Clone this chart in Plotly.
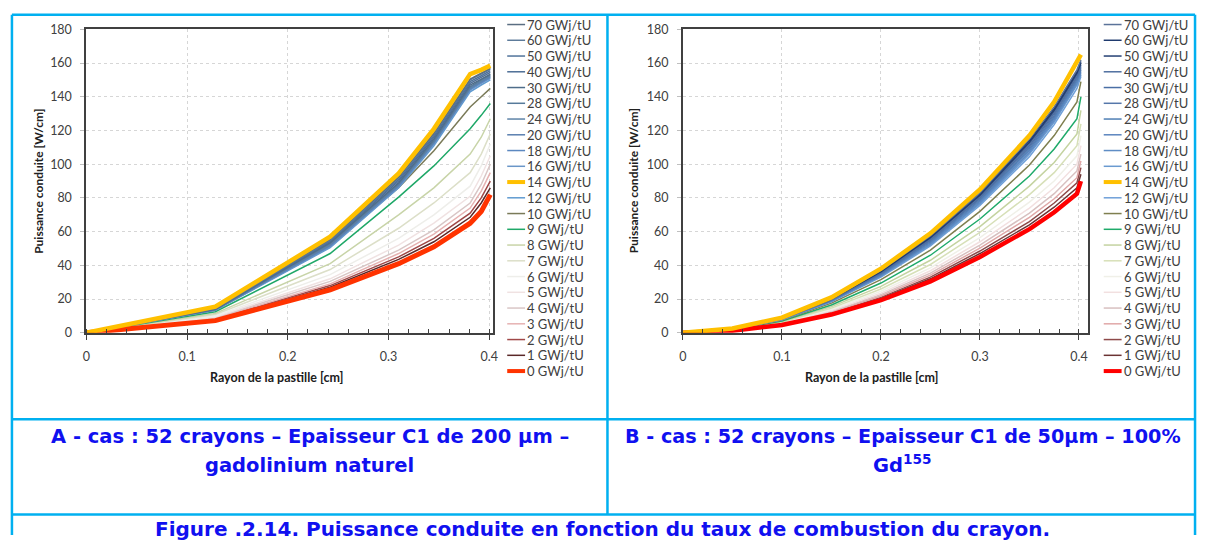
import plotly.graph_objects as go

W, H = 1205, 542

# Burn-up steps (legend order, top to bottom)
labels = ["70 GWj/tU", "60 GWj/tU", "50 GWj/tU", "40 GWj/tU", "30 GWj/tU", "28 GWj/tU",
          "24 GWj/tU", "20 GWj/tU", "18 GWj/tU", "16 GWj/tU", "14 GWj/tU", "12 GWj/tU",
          "10 GWj/tU", "9 GWj/tU", "8 GWj/tU", "7 GWj/tU", "6 GWj/tU", "5 GWj/tU",
          "4 GWj/tU", "3 GWj/tU", "2 GWj/tU", "1 GWj/tU", "0 GWj/tU"]

# ---- Case A : 200 µm C1, natural gadolinium ----
radius_a = [0, 0.128, 0.242, 0.31, 0.345, 0.381, 0.392, 0.401]
power_a = {
    "70 GWj/tU": [0, 14.8, 55.5, 92.5, 118.5, 150.5, 154, 157],
    "60 GWj/tU": [0, 14.6, 55, 92, 118, 150, 153.5, 156.5],
    "50 GWj/tU": [0, 14.4, 54.5, 91, 117, 149, 152.5, 155.5],
    "40 GWj/tU": [0, 14.2, 54, 90, 116, 148, 151.5, 154.5],
    "30 GWj/tU": [0, 14, 53.5, 89, 115, 147, 150.5, 153.5],
    "28 GWj/tU": [0, 13.9, 53, 88.5, 114, 146, 150, 153],
    "24 GWj/tU": [0, 13.8, 52.5, 88, 113.5, 145.5, 149.5, 152.5],
    "20 GWj/tU": [0, 13.7, 52, 87.5, 113, 145, 149, 152],
    "18 GWj/tU": [0, 13.6, 51.5, 87, 112.5, 144.5, 148.5, 151.5],
    "16 GWj/tU": [0, 13.5, 51, 86.5, 112, 144, 148, 151],
    "14 GWj/tU": [0, 15.5, 57, 94.5, 121, 153.5, 156, 158.5],
    "12 GWj/tU": [0, 13.3, 50.5, 86, 111, 143, 147, 150],
    "10 GWj/tU": [0, 13.5, 52, 86, 108, 134, 140, 145],
    "9 GWj/tU": [0, 12.5, 47, 80.5, 99, 121, 129, 136],
    "8 GWj/tU": [0, 11.5, 41, 70, 86, 106, 116, 127],
    "7 GWj/tU": [0, 10.8, 37.5, 62, 77, 95, 106, 118],
    "6 GWj/tU": [0, 10, 34.5, 56, 70, 87, 99, 112],
    "5 GWj/tU": [0, 9.4, 32, 52, 65, 81, 93, 105],
    "4 GWj/tU": [0, 9, 30.5, 49, 61, 77, 88, 100],
    "3 GWj/tU": [0, 8.6, 29, 47, 58.5, 74, 84, 95],
    "2 GWj/tU": [0, 8.2, 28, 45, 56, 71, 80, 90],
    "1 GWj/tU": [0, 7.8, 27, 43.5, 54, 68.5, 77, 86],
    "0 GWj/tU": [0, 7.2, 25.5, 41, 51, 65, 72, 82],
}

# ---- Case B : 50 µm C1, 100 % Gd155 ----
radius_b = [0, 0.05, 0.1, 0.15, 0.2, 0.25, 0.3, 0.35, 0.375, 0.398, 0.402]
power_b = {
    "70 GWj/tU": [0, 2.4, 8.7, 20.5, 37, 57.5, 83, 115, 134, 156, 162],
    "60 GWj/tU": [0, 2.4, 8.6, 20.3, 36.6, 57, 82.3, 114, 133, 155, 161],
    "50 GWj/tU": [0, 2.3, 8.5, 20, 36.2, 56.4, 81.6, 113, 132, 154, 160],
    "40 GWj/tU": [0, 2.3, 8.4, 19.8, 35.8, 55.8, 81, 112, 131, 153, 159],
    "30 GWj/tU": [0, 2.3, 8.3, 19.6, 35.4, 55.2, 80.2, 111, 130, 152, 158],
    "28 GWj/tU": [0, 2.2, 8.2, 19.4, 35, 54.6, 79.5, 110, 129, 151, 157],
    "24 GWj/tU": [0, 2.2, 8.1, 19.2, 34.6, 54, 78.8, 109, 128, 150, 156],
    "20 GWj/tU": [0, 2.2, 8, 19, 34.2, 53.4, 78, 108, 127, 149, 155],
    "18 GWj/tU": [0, 2.1, 7.9, 18.8, 33.8, 52.8, 77.2, 107, 126, 148, 154],
    "16 GWj/tU": [0, 2.1, 7.8, 18.6, 33.4, 52.2, 76.5, 106, 125, 147, 153],
    "14 GWj/tU": [0, 2.5, 9, 21, 38, 59, 85, 117, 137, 160, 165],
    "12 GWj/tU": [0, 2.1, 7.7, 18.3, 33, 51.5, 75.5, 104.5, 123.5, 145, 152],
    "10 GWj/tU": [0, 2, 7.4, 17.6, 31.5, 49, 72, 99.5, 117, 137, 149],
    "9 GWj/tU": [0, 1.9, 7, 16.5, 29.5, 46, 67.5, 93, 109, 127, 140],
    "8 GWj/tU": [0, 1.8, 6.6, 15.5, 27.5, 43, 63, 87, 101, 118, 132],
    "7 GWj/tU": [0, 1.7, 6.3, 14.6, 26, 40.5, 59.5, 82, 95, 111, 124],
    "6 GWj/tU": [0, 1.6, 6, 13.9, 24.6, 38.5, 56.5, 77.5, 90, 105, 117],
    "5 GWj/tU": [0, 1.5, 5.7, 13.2, 23.5, 36.8, 54, 74, 86, 100, 111],
    "4 GWj/tU": [0, 1.5, 5.5, 12.7, 22.6, 35.4, 52, 71, 82.5, 96, 106],
    "3 GWj/tU": [0, 1.4, 5.3, 12.3, 21.8, 34.2, 50.2, 68.5, 79.5, 92, 102],
    "2 GWj/tU": [0, 1.4, 5.1, 11.8, 21, 33, 48.5, 66, 77, 89, 98],
    "1 GWj/tU": [0, 1.3, 4.9, 11.4, 20.3, 32, 47, 64, 74.5, 86, 94],
    "0 GWj/tU": [0, 1.2, 4.6, 10.8, 19.3, 30.5, 45, 61.5, 71.5, 82.5, 90],
}

colors_a = ["#5A6E82", "#5D7B9A", "#50739A", "#4D6E96", "#4F6D8A", "#567A9A",
            "#5F84A8", "#5A7FAF", "#5C88C0", "#6A96C8", "#FFC000", "#5F9AD0",
            "#7A7A58", "#1FA868", "#C8D4A8", "#DCDFC8", "#EEEEEA", "#F0E2E2",
            "#D9C6C6", "#E6B2B2", "#A04848", "#5A2828", "#FF3300"]
colors_b = ["#5B7399", "#1F3A6E", "#243F73", "#4F6FA0", "#4A6FA5", "#5577AA",
            "#4F7FB5", "#5B85BF", "#5F8DC5", "#6A9AD0", "#FFC000", "#6FA0D8",
            "#7F7F4F", "#1FAA6A", "#C4D3A0", "#D7E0B8", "#F0F0E8", "#F2E0E0",
            "#D8C0C0", "#E0A8A8", "#8E4A4A", "#6B3333", "#FF0000"]

tick_vals_x = [0, 0.1, 0.2, 0.3, 0.4]
tick_text_x = ["0", "0.1", "0.2", "0.3", "0.4"]
tick_vals_y = [0, 20, 40, 60, 80, 100, 120, 140, 160, 180]

FONT = "Lato, Carlito, Calibri, sans-serif"
CAP_FONT = "DejaVu Sans, sans-serif"
AX_COLOR = "#404040"
FRAME = "#00B0F0"
BLUE_TXT = "#1010F0"


def px_x(x):
    return x / W


def px_y(y):
    return 1 - y / H


def width_of(name, thick):
    if name == "14 GWj/tU":
        return 4.5
    if name == "0 GWj/tU":
        return thick
    return 1.5


fig = go.Figure()

panels = [
    dict(xa="x", ya="y", r=radius_a, data=power_a, colors=colors_a,
         x0=83, x1=493, xmax=0.404, leg_x=507, red_w=5, title_x=275, ytitle_x=34),
    dict(xa="x2", ya="y2", r=radius_b, data=power_b, colors=colors_b,
         x0=684, x1=1092, xmax=0.409, leg_x=1108, red_w=4.5, title_x=875, ytitle_x=634),
]

shapes = []
annotations = []

for p in panels:
    # thin curves first, then the two highlighted ones on top
    order = list(range(len(labels)))[::-1]
    order = [i for i in order if labels[i] not in ("14 GWj/tU", "0 GWj/tU")] + \
        [labels.index("0 GWj/tU"), labels.index("14 GWj/tU")]
    for i in order:
        name = labels[i]
        fig.add_trace(go.Scatter(
            x=p["r"], y=p["data"][name], mode="lines", name=name,
            line=dict(color=p["colors"][i], width=width_of(name, p["red_w"])),
            xaxis=p["xa"], yaxis=p["ya"], showlegend=False,
        ))
    # legend drawn beside each panel
    for i, name in enumerate(labels):
        yc = 17 + i * 16.2
        lw = 4 if name in ("14 GWj/tU", "0 GWj/tU") else 1.5
        shapes.append(dict(type="line", xref="paper", yref="paper",
                           x0=px_x(p["leg_x"]), x1=px_x(p["leg_x"] + 18),
                           y0=px_y(yc), y1=px_y(yc),
                           line=dict(color=p["colors"][i], width=lw)))
        annotations.append(dict(xref="paper", yref="paper", x=px_x(p["leg_x"] + 18),
                                y=px_y(yc), text=name, showarrow=False,
                                xanchor="left", yanchor="middle",
                                font=dict(family=FONT, size=13, color=AX_COLOR)))
    annotations.append(dict(xref="paper", yref="paper", x=px_x(p["title_x"]), y=px_y(380),
                            text="<b>Rayon de la pastille [cm]</b>", showarrow=False,
                            xanchor="center", yanchor="middle",
                            font=dict(family=FONT, size=12.5, color="#202020")))
    annotations.append(dict(xref="paper", yref="paper", x=px_x(p["ytitle_x"]), y=px_y(178),
                            text="<b>Puissance conduite [W/cm]</b>", showarrow=False,
                            textangle=-90, xanchor="center", yanchor="middle",
                            font=dict(family=FONT, size=12, color="#202020")))

axis_common = dict(showline=True, linecolor=AX_COLOR, linewidth=2, mirror=True,
                   showgrid=True, gridcolor="#D6D6D6", griddash="dot", gridwidth=1,
                   zeroline=False, tickfont=dict(family=FONT, size=12.5, color=AX_COLOR))

y_top, y_bot = 22, 334
for k, p in enumerate(panels):
    sx = "" if k == 0 else "2"
    fig.update_layout(**{
        "xaxis" + sx: dict(axis_common, domain=[px_x(p["x0"]), px_x(p["x1"])],
                           range=[0, p["xmax"]], tickvals=tick_vals_x, ticktext=tick_text_x,
                           ticks="outside", ticklen=5, tickcolor=AX_COLOR,
                           minor=dict(ticks="inside", dtick=0.02, ticklen=4,
                                      tickcolor=AX_COLOR, showgrid=False),
                           anchor="y" + sx, ticklabelstandoff=6),
        "yaxis" + sx: dict(axis_common, domain=[px_y(y_bot), px_y(y_top)],
                           range=[0, 180], tickvals=tick_vals_y,
                           ticks="outside", ticklen=4, tickcolor="#BFBFBF",
                           anchor="x" + sx, ticklabelstandoff=6),
    })

# table frame around the two charts and their captions
frame_lines = [
    (8, 7, 1200, 7), (8, 7, 8, 542), (1200, 7, 1200, 542), (608, 7, 608, 521),
    (8, 423, 1200, 423), (8, 521, 1200, 521),
]
for x0, y0, x1, y1 in frame_lines:
    shapes.append(dict(type="line", xref="paper", yref="paper",
                       x0=px_x(x0), y0=px_y(y0), x1=px_x(x1), y1=px_y(y1),
                       line=dict(color=FRAME, width=2.5)))

caption_font = dict(family=CAP_FONT, size=19.5, color=BLUE_TXT)
captions = [
    (308, 441, "<b>A - cas : 52 crayons – Epaisseur C1 de 200 µm –</b>", 19.5),
    (308, 471, "<b>gadolinium naturel</b>", 19.5),
    (906, 441, "<b>B - cas : 52 crayons – Epaisseur C1 de 50µm – 100%</b>", 19.2),
    (905, 469, "<b>Gd<sup>155</sup></b>", 19.5),
    (603, 536, "<b>Figure .2.14. Puissance conduite en fonction du taux de combustion du crayon.</b>", 20),
]
for x, y, t, s in captions:
    annotations.append(dict(xref="paper", yref="paper", x=px_x(x), y=px_y(y), text=t,
                            showarrow=False, xanchor="center", yanchor="middle",
                            font=dict(caption_font, size=s)))

fig.update_layout(width=W, height=H, margin=dict(l=0, r=0, t=0, b=0),
                  paper_bgcolor="white", plot_bgcolor="white",
                  shapes=shapes, annotations=annotations, showlegend=False)

fig.write_html("out.html")
